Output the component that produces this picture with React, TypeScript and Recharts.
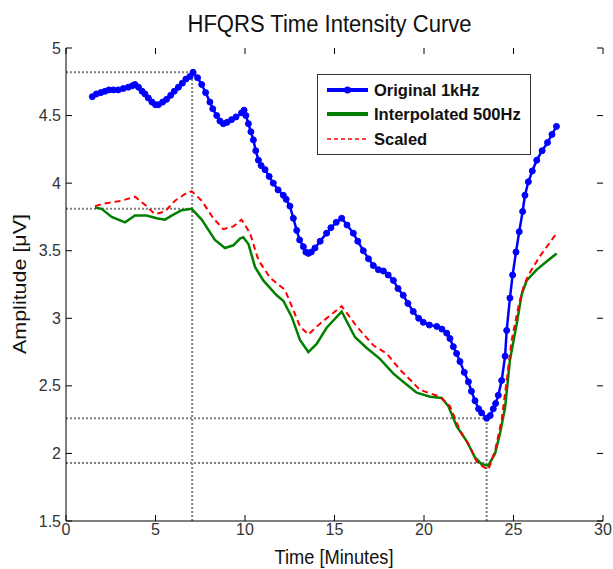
import React from "react";
import { LineChart, Line, XAxis, YAxis, ReferenceLine, Legend } from "recharts";

const W = 613;
const H = 569;
const LEFT = 66;
const RIGHT = 603;
const TOP = 48;
const BOTTOM = 521;
const FONT = "'Liberation Sans', Arial, Helvetica, sans-serif";

const xTicks = [0, 5, 10, 15, 20, 25, 30];
const yTicks = [1.5, 2, 2.5, 3, 3.5, 4, 4.5, 5];

const seriesNames = ["Original 1kHz", "Interpolated 500Hz", "Scaled"];

// Original 1kHz (blue, with markers)
const originalTime = [
  1.47, 1.7, 1.95, 2.18, 2.4, 2.65, 2.92, 3.2, 3.48, 3.7, 3.85, 4.05, 4.25, 4.41, 4.6, 4.8, 5.0, 5.16, 5.4,
  5.62, 5.85, 6.05, 6.28, 6.5, 6.7, 6.93, 7.1, 7.35, 7.58, 7.8, 8.04, 8.2, 8.42, 8.6, 8.79, 9.0, 9.25, 9.5,
  9.81, 9.95, 10.05, 10.19, 10.33, 10.47, 10.6, 10.75, 10.9, 11.12, 11.35, 11.58, 11.85, 12.14, 12.3, 12.51,
  12.7, 12.89, 13.05, 13.26, 13.4, 13.54, 13.7, 13.91, 14.2, 14.56, 14.8, 15.1, 15.4, 15.7, 16.05, 16.3,
  16.61, 16.9, 17.17, 17.45, 17.73, 18.0, 18.29, 18.55, 18.84, 19.1, 19.4, 19.7, 19.96, 20.3, 20.71, 21.0,
  21.27, 21.45, 21.64, 21.82, 22.01, 22.25, 22.48, 22.65, 22.85, 23.05, 23.22, 23.5, 23.7, 23.87, 24.0,
  24.15, 24.34, 24.53, 24.62, 24.8, 24.95, 25.14, 25.32, 25.51, 25.64, 25.83, 26.05, 26.3, 26.6, 26.9,
  27.15, 27.4,
];
const originalAmp = [
  4.64, 4.66, 4.67, 4.68, 4.69, 4.69, 4.69, 4.7, 4.71, 4.72, 4.73, 4.71, 4.68, 4.66, 4.63, 4.6, 4.58, 4.58, 4.6,
  4.62, 4.65, 4.68, 4.71, 4.74, 4.77, 4.79, 4.82, 4.78, 4.73, 4.67, 4.6, 4.55, 4.5, 4.46, 4.44, 4.45, 4.47, 4.49,
  4.52, 4.54, 4.5, 4.44, 4.38, 4.32, 4.24, 4.17, 4.13, 4.1, 4.05, 4.0, 3.95, 3.91, 3.88, 3.83,
  3.74, 3.65, 3.58, 3.53, 3.49, 3.48, 3.49, 3.52, 3.57, 3.63, 3.67, 3.71, 3.74, 3.69, 3.63, 3.57,
  3.5, 3.44, 3.39, 3.36, 3.35, 3.32, 3.28, 3.22, 3.17, 3.11, 3.05, 3.0, 2.97, 2.95, 2.94, 2.92,
  2.89, 2.85, 2.79, 2.74, 2.68, 2.6, 2.53, 2.46, 2.39, 2.33, 2.3, 2.26, 2.28, 2.33, 2.37,
  2.43, 2.54, 2.72, 2.91, 3.15, 3.32, 3.49, 3.64, 3.79, 3.91, 4.01, 4.09, 4.17, 4.24, 4.3,
  4.36, 4.42,
];

// Interpolated 500Hz (green)
const interpTime = [
  1.62, 1.99, 2.55, 3.3, 3.85, 4.5, 5.06, 5.53, 5.9, 6.46, 7.02, 7.58, 8.32, 8.88, 9.35, 9.72, 9.9, 10.19,
  10.56, 11.02, 11.77, 12.14, 12.61, 13.07, 13.54, 14.0, 14.56, 15.4, 16.15, 16.8, 17.54, 18.29, 18.84,
  19.59, 20.34, 20.99, 21.36, 21.83, 22.39, 22.85, 23.22, 23.59, 23.97, 24.25, 24.53, 24.8, 25.18, 25.46,
  25.74, 26.3, 26.85, 27.41,
];
const interpAmp = [
  3.82, 3.81, 3.75, 3.71, 3.76, 3.76, 3.74, 3.73, 3.76, 3.8, 3.81, 3.73, 3.58, 3.52, 3.54, 3.59, 3.6, 3.55,
  3.38, 3.28, 3.17, 3.13, 3.01, 2.84, 2.75, 2.81, 2.93, 3.05, 2.86, 2.78, 2.7, 2.59, 2.53,
  2.45, 2.42, 2.41, 2.35, 2.2, 2.09, 1.97, 1.92, 1.91, 2.0, 2.15, 2.34, 2.69, 2.96, 3.18,
  3.28, 3.36, 3.42, 3.48,
];

// Scaled (red dashed)
const scaledTime = [
  1.62, 2.18, 3.11, 3.85, 4.41, 4.97, 5.53, 6.09, 6.65, 7.02, 7.58, 8.23, 8.79, 9.35, 9.81, 10.28, 10.75,
  11.4, 12.23, 12.61, 13.07, 13.54, 14.19, 15.4, 16.24, 17.17, 17.91, 18.66, 19.78, 20.89, 21.45, 22.01,
  22.57, 22.94, 23.31, 23.6, 23.97, 24.34, 24.62, 24.9, 25.28, 25.55, 25.83, 26.48, 27.41,
];
const scaledAmp = [
  3.83, 3.85, 3.87, 3.9, 3.84, 3.77, 3.79, 3.87, 3.92, 3.94, 3.87, 3.74, 3.66, 3.68, 3.73, 3.63, 3.43,
  3.3, 3.21, 3.09, 2.94, 2.88, 2.96, 3.09, 2.94, 2.8, 2.74, 2.62, 2.47, 2.42, 2.35, 2.17,
  2.05, 1.94, 1.9, 1.88, 2.02, 2.25, 2.54, 2.84, 3.09, 3.23, 3.32, 3.46, 3.63,
];

// dotted marker lines: time of the peak / trough and the two levels read there
const markTime = [7.05, 23.5];
const markHigh = [4.82, 2.26];
const markLow = [3.81, 1.93];

const toPoints = (t: number[], v: number[]) => t.map((x, i) => ({ x, y: v[i] }));

const BLUE = "#0000ff";
const GREEN = "#008000";
const RED = "#ff0000";
const GREY = "#7f7f7f";

const legendRows = [
  { color: BLUE, width: 4, dash: undefined as string | undefined, dot: true },
  { color: GREEN, width: 4, dash: undefined as string | undefined, dot: false },
  { color: RED, width: 1.5, dash: "4 3", dot: false },
];

function XTick({ x, payload }: any) {
  return (
    <g>
      <line x1={x} x2={x} y1={BOTTOM} y2={BOTTOM - 6} stroke="#000" />
      <line x1={x} x2={x} y1={TOP} y2={TOP + 6} stroke="#000" />
      <text x={x} y={BOTTOM + 14} textAnchor="middle" fontSize={16} fill="#333" fontFamily={FONT}>
        {payload.value}
      </text>
    </g>
  );
}

function YTick({ y, payload }: any) {
  return (
    <g>
      <line x1={LEFT} x2={LEFT + 6} y1={y} y2={y} stroke="#000" />
      <line x1={RIGHT} x2={RIGHT - 6} y1={y} y2={y} stroke="#000" />
      <text x={61} y={y + 5.5} textAnchor="end" fontSize={16} fill="#333" fontFamily={FONT}>
        {payload.value}
      </text>
    </g>
  );
}

// legend drawn in the series order (recharts sorts its payload by name)
function LegendBox() {
  const rowsY = [16, 40, 65];
  return (
    <div style={{ width: 214, height: 81, border: "1px solid #333", background: "#fff", boxSizing: "border-box" }}>
      <svg width={212} height={79} style={{ display: "block" }}>
        {seriesNames.map((name, i) => {
          const s = legendRows[i];
          const y = rowsY[i] - 1;
          return (
            <g key={name}>
              <line x1={9} x2={50} y1={y} y2={y} stroke={s.color} strokeWidth={s.width} strokeDasharray={s.dash} />
              {s.dot && <circle cx={29.5} cy={y} r={3.5} fill={s.color} />}
              <text x={56} y={y + 6} fontSize={16.5} fontWeight={700} fill="#111" fontFamily={FONT}>
                {name}
              </text>
            </g>
          );
        })}
      </svg>
    </div>
  );
}

export default function App() {
  const axisIds = { xAxisId: "b", yAxisId: "l" };
  return (
    <div style={{ position: "absolute", left: 0, top: 0, width: W, height: H, background: "#fff", fontFamily: FONT }}>
      <LineChart width={W} height={H} margin={{ top: TOP, right: W - RIGHT, bottom: 0, left: 0 }}>
        <XAxis
          xAxisId="b"
          type="number"
          dataKey="x"
          domain={[0, 30]}
          ticks={xTicks}
          interval={0}
          height={H - BOTTOM}
          axisLine={{ stroke: "#000" }}
          tickLine={false}
          tick={<XTick />}
          allowDataOverflow
        />
        <XAxis xAxisId="t" orientation="top" type="number" dataKey="x" domain={[0, 30]} height={0} tick={false} tickLine={false} axisLine={{ stroke: "#000" }} />
        <YAxis
          yAxisId="l"
          type="number"
          domain={[1.5, 5]}
          ticks={yTicks}
          interval={0}
          width={LEFT}
          axisLine={{ stroke: "#000" }}
          tickLine={false}
          tick={<YTick />}
          allowDataOverflow
        />
        <YAxis yAxisId="r" orientation="right" type="number" domain={[1.5, 5]} width={0} tick={false} tickLine={false} axisLine={{ stroke: "#000" }} />

        {markTime.map((t, i) => (
          <ReferenceLine key={"hh" + i} {...axisIds} segment={[{ x: 0, y: markHigh[i] }, { x: t, y: markHigh[i] }]} stroke={GREY} strokeWidth={2} strokeDasharray="2 2" />
        ))}
        {markTime.map((t, i) => (
          <ReferenceLine key={"hl" + i} {...axisIds} segment={[{ x: 0, y: markLow[i] }, { x: t, y: markLow[i] }]} stroke={GREY} strokeWidth={2} strokeDasharray="2 2" />
        ))}
        {markTime.map((t, i) => (
          <ReferenceLine key={"v" + i} {...axisIds} segment={[{ x: t, y: 1.5 }, { x: t, y: markHigh[i] }]} stroke={GREY} strokeWidth={2} strokeDasharray="2 2" />
        ))}

        <Line
          {...axisIds}
          name={seriesNames[0]}
          data={toPoints(originalTime, originalAmp)}
          dataKey="y"
          type="linear"
          stroke={BLUE}
          strokeWidth={2.5}
          dot={{ r: 3, fill: BLUE, stroke: BLUE, strokeWidth: 1 }}
          isAnimationActive={false}
        />
        <Line
          {...axisIds}
          name={seriesNames[1]}
          data={toPoints(interpTime, interpAmp)}
          dataKey="y"
          type="linear"
          stroke={GREEN}
          strokeWidth={2.5}
          dot={false}
          isAnimationActive={false}
        />
        <Line
          {...axisIds}
          name={seriesNames[2]}
          data={toPoints(scaledTime, scaledAmp)}
          dataKey="y"
          type="linear"
          stroke={RED}
          strokeWidth={2}
          strokeDasharray="6 4"
          dot={false}
          isAnimationActive={false}
        />

        <Legend
          layout="horizontal"
          align="center"
          verticalAlign="middle"
          content={<LegendBox />}
          wrapperStyle={{ left: 317, top: 74, width: 214, height: 81 }}
        />
      </LineChart>

      <svg width={W} height={H} style={{ position: "absolute", left: 0, top: 0, pointerEvents: "none" }}>
        <text x={329.5} y={32} textAnchor="middle" fontSize={23} fill="#111" fontFamily={FONT} textLength={284} lengthAdjust="spacingAndGlyphs">
          HFQRS Time Intensity Curve
        </text>
        <text x={334} y={564} textAnchor="middle" fontSize={21} fill="#111" fontFamily={FONT} textLength={119} lengthAdjust="spacingAndGlyphs">
          Time [Minutes]
        </text>
        <text
          transform="translate(26 284) rotate(-90)"
          textAnchor="middle"
          fontSize={19}
          fill="#111"
          fontFamily={FONT}
          textLength={140}
          lengthAdjust="spacingAndGlyphs"
        >
          Amplitude [μV]
        </text>
      </svg>
    </div>
  );
}
